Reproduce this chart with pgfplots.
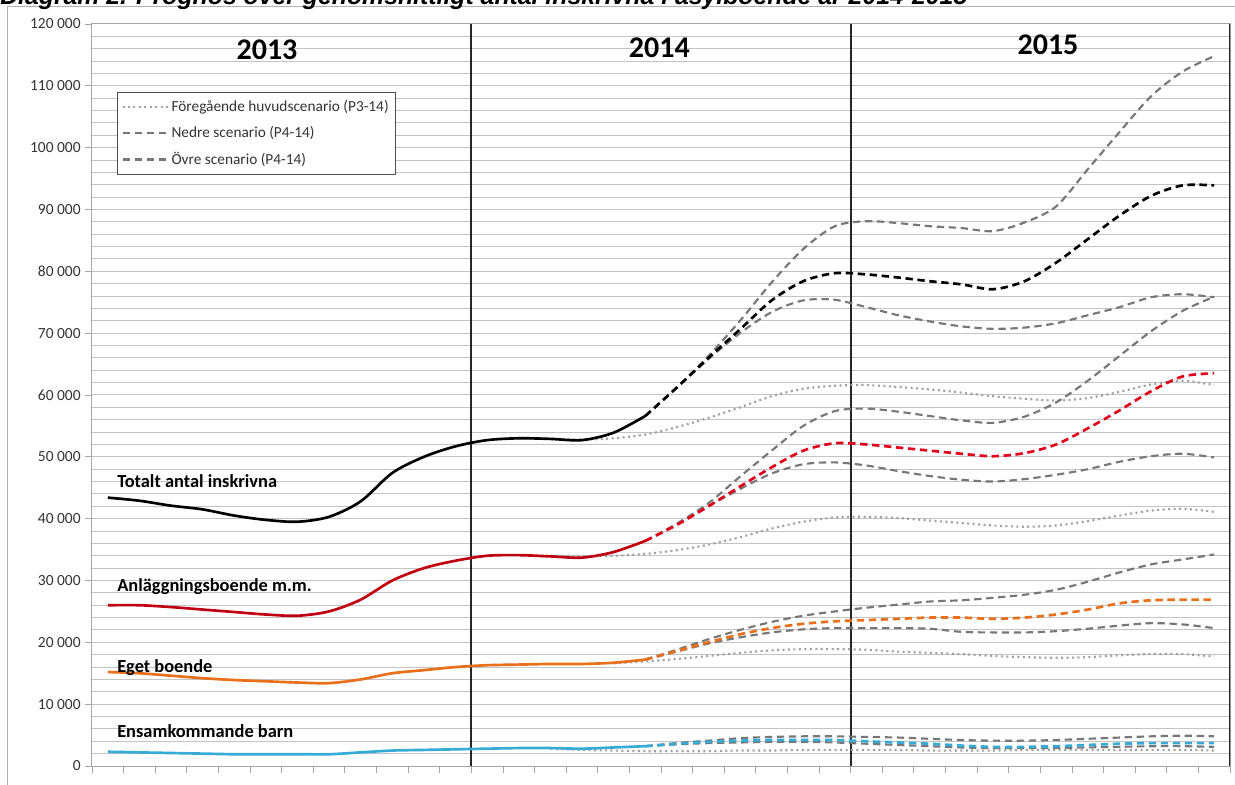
\documentclass[border=0pt]{standalone}
\usepackage{fontspec}
\setmainfont{Carlito}
\newfontfamily\titlefont{Liberation Sans}
\usepackage{pgfplots}
\usepackage{pgfplotstable}
\pgfplotsset{compat=1.18}
\definecolor{cRedS}{HTML}{C00010}
\definecolor{cRedD}{HTML}{E3001B}
\definecolor{cOrange}{HTML}{E8701A}
\definecolor{cBlue}{HTML}{35ABD6}
\definecolor{cGrayD}{HTML}{777777}
\definecolor{cGrayP}{HTML}{A0A0A0}
\definecolor{cGrid}{HTML}{C4C4C4}

\pgfplotstableread{
x act main up low prev
0 43.4 nan nan nan nan
1 42.9 nan nan nan nan
2 42.1 nan nan nan nan
3 41.5 nan nan nan nan
4 40.5 nan nan nan nan
5 39.8 nan nan nan nan
6 39.5 nan nan nan nan
7 40.3 nan nan nan nan
8 42.8 nan nan nan nan
9 47.4 nan nan nan nan
10 50.0 nan nan nan nan
11 51.7 nan nan nan nan
12 52.7 nan nan nan nan
13 53.0 nan nan nan 53.0
14 52.9 nan nan nan 52.9
15 52.7 nan nan nan 52.8
16 53.9 nan nan nan 53.0
17 56.6 56.6 56.6 56.6 53.6
18 nan 61.2 61.2 61.2 54.8
19 nan 66.0 66.3 65.8 56.3
20 nan 70.6 72.0 70.0 58.0
21 nan 75.3 78.2 73.4 59.8
22 nan 78.4 83.6 75.3 61.0
23 nan 79.7 87.3 75.4 61.5
24 nan 79.5 88.1 74.2 61.6
25 nan 79.0 87.8 72.9 61.3
26 nan 78.4 87.3 71.9 60.9
27 nan 77.9 87.0 71.1 60.4
28 nan 77.1 86.5 70.7 59.8
29 nan 78.4 87.9 70.9 59.4
30 nan 81.4 90.5 71.6 59.1
31 nan 85.2 96.5 72.9 59.5
32 nan 89.0 102.5 74.2 60.5
33 nan 92.2 108.3 75.8 61.7
34 nan 93.9 112.3 76.3 62.3
35 nan 93.9 114.8 75.8 61.6
}\tot

\pgfplotstableread{
x act main up low prev
0 26.0 nan nan nan nan
1 26.0 nan nan nan nan
2 25.7 nan nan nan nan
3 25.3 nan nan nan nan
4 24.9 nan nan nan nan
5 24.5 nan nan nan nan
6 24.3 nan nan nan nan
7 25.0 nan nan nan nan
8 26.9 nan nan nan nan
9 30.0 nan nan nan nan
10 32.0 nan nan nan nan
11 33.2 nan nan nan nan
12 34.0 nan nan nan nan
13 34.1 nan nan nan nan
14 33.9 nan nan nan 34.0
15 33.7 nan nan nan 33.9
16 34.6 nan nan nan 34.0
17 36.4 36.4 36.4 36.4 34.3
18 nan 39.0 39.2 39.0 34.9
19 nan 42.0 42.5 42.0 35.8
20 nan 45.2 46.8 44.8 37.0
21 nan 48.3 51.0 47.3 38.4
22 nan 51.0 55.0 48.8 39.5
23 nan 52.2 57.4 49.1 40.2
24 nan 52.0 57.8 48.6 40.3
25 nan 51.5 57.3 47.7 40.1
26 nan 51.0 56.6 46.9 39.7
27 nan 50.5 55.9 46.3 39.3
28 nan 50.1 55.5 46.0 38.9
29 nan 50.6 56.5 46.4 38.7
30 nan 52.0 58.8 47.1 38.9
31 nan 54.6 62.3 48.0 39.6
32 nan 57.5 66.3 49.2 40.5
33 nan 60.6 70.3 50.1 41.3
34 nan 63.0 73.6 50.5 41.6
35 nan 63.5 75.9 49.9 41.1
}\anl

\pgfplotstableread{
x act main up low prev
0 15.2 nan nan nan nan
1 15.0 nan nan nan nan
2 14.6 nan nan nan nan
3 14.2 nan nan nan nan
4 13.9 nan nan nan nan
5 13.7 nan nan nan nan
6 13.5 nan nan nan nan
7 13.4 nan nan nan nan
8 14.0 nan nan nan nan
9 15.0 nan nan nan nan
10 15.5 nan nan nan nan
11 16.0 nan nan nan nan
12 16.3 nan nan nan nan
13 16.4 nan nan nan nan
14 16.5 nan nan nan nan
15 16.5 nan nan nan nan
16 16.7 nan nan nan 16.6
17 17.2 17.2 17.2 17.2 16.9
18 nan 18.6 18.8 18.5 17.3
19 nan 20.0 20.5 19.8 17.8
20 nan 21.3 22.0 20.8 18.3
21 nan 22.3 23.3 21.6 18.7
22 nan 23.0 24.3 22.1 18.9
23 nan 23.4 25.0 22.3 18.9
24 nan 23.6 25.6 22.3 18.8
25 nan 23.8 26.1 22.3 18.5
26 nan 24.0 26.6 22.2 18.3
27 nan 24.0 26.8 21.7 18.1
28 nan 23.8 27.2 21.6 17.8
29 nan 24.0 27.7 21.6 17.6
30 nan 24.5 28.5 21.8 17.5
31 nan 25.3 29.8 22.2 17.6
32 nan 26.3 31.3 22.7 17.9
33 nan 26.8 32.6 23.1 18.1
34 nan 26.9 33.4 22.9 18.1
35 nan 26.9 34.2 22.3 17.7
}\eget

\pgfplotstableread{
x act main up low prev
0 2.3 nan nan nan nan
1 2.2 nan nan nan nan
2 2.1 nan nan nan nan
3 2.0 nan nan nan nan
4 1.9 nan nan nan nan
5 1.9 nan nan nan nan
6 1.9 nan nan nan nan
7 1.9 nan nan nan nan
8 2.2 nan nan nan nan
9 2.5 nan nan nan nan
10 2.6 nan nan nan nan
11 2.7 nan nan nan nan
12 2.8 nan nan nan nan
13 2.9 nan nan nan nan
14 2.9 nan nan nan 2.8
15 2.8 nan nan nan 2.6
16 3.0 nan nan nan 2.5
17 3.2 3.2 3.2 3.2 2.4
18 nan 3.6 3.7 3.5 2.4
19 nan 3.9 4.1 3.7 2.4
20 nan 4.1 4.5 3.8 2.5
21 nan 4.2 4.7 3.9 2.5
22 nan 4.2 4.8 3.9 2.6
23 nan 4.2 4.8 3.8 2.6
24 nan 4.0 4.7 3.6 2.6
25 nan 3.8 4.6 3.4 2.6
26 nan 3.6 4.4 3.2 2.5
27 nan 3.3 4.2 3.0 2.5
28 nan 3.1 4.1 2.9 2.5
29 nan 3.1 4.1 2.9 2.6
30 nan 3.2 4.2 2.9 2.6
31 nan 3.4 4.4 3.0 2.6
32 nan 3.6 4.6 3.1 2.6
33 nan 3.7 4.8 3.2 2.6
34 nan 3.7 4.9 3.2 2.6
35 nan 3.7 4.8 3.1 2.5
}\barn

\tikzset{
  prevst/.style={cGrayP, line width=1.6pt, dash pattern=on 1.5pt off 2.6pt},
  scenst/.style={cGrayD, line width=1.6pt, dash pattern=on 5.5pt off 3.5pt},
  mainst/.style={line width=2pt, dash pattern=on 5.5pt off 3.5pt},
  actst/.style={line width=2pt},
}

\begin{document}
\begin{tikzpicture}
\useasboundingbox (-69pt,-14.25pt) rectangle (857.25pt,574.5pt);
\fill[white] (-69pt,-14.25pt) rectangle (857.25pt,574.5pt);
\draw[gray!60, line width=0.75pt] (-63pt,-40pt) rectangle (880pt,569.25pt);
\node[anchor=base west, inner sep=0pt, font=\titlefont\bfseries\itshape\fontsize{18.6}{20}\selectfont] at (-69pt,571.2pt)
  {Diagram 2. Prognos över genomsnittligt antal inskrivna i asylboende år 2014-2015};

\begin{axis}[
  at={(0pt,0pt)}, anchor=south west,
  scale only axis, width=853.5pt, height=556.5pt,
  xmin=-0.5, xmax=35.5, ymin=0, ymax=120,
  xtick={-0.5,0.5,...,35.5}, xticklabels={},
  ytick={0,10,...,120},
  yticklabels={0,10 000,20 000,30 000,40 000,50 000,60 000,70 000,80 000,90 000,100 000,110 000,120 000},
  minor ytick={2,4,...,118},
  ymajorgrids, yminorgrids,
  major grid style={cGrid, line width=0.75pt},
  minor grid style={cGrid, line width=0.75pt},
  tick pos=left, tick align=outside,
  major tick length=5pt, minor tick length=0pt,
  tick style={gray!70, line width=0.6pt},
  axis line style={gray!70, line width=0.75pt},
  yticklabel style={font=\fontsize{11.6}{13}\selectfont, text=black!80},
  unbounded coords=discard,
  legend style={at={(0.022,0.908)}, anchor=north west, draw=black!70, line width=0.6pt,
    font=\fontsize{11.5}{13}\selectfont, row sep=5.5pt, inner xsep=3pt, inner ysep=4pt,
    cells={anchor=west}, text=black!80},
  legend image code/.code={\draw[#1] (0pt,0pt) -- (34pt,0pt);},
]
% year dividers
\addplot[black!85, line width=1.4pt, forget plot] coordinates {(11.5,0) (11.5,120)};
\addplot[black!85, line width=1.4pt, forget plot] coordinates {(23.5,0) (23.5,120)};
\addplot[black!85, line width=1.4pt, forget plot] coordinates {(35.5,0) (35.5,120)};

% previous main scenario (dotted)
\addplot[prevst, smooth, forget plot] table[x=x, y=prev] {\tot};
\addplot[prevst, smooth, forget plot] table[x=x, y=prev] {\anl};
\addplot[prevst, smooth, forget plot] table[x=x, y=prev] {\eget};
\addplot[prevst, smooth, forget plot] table[x=x, y=prev] {\barn};
% lower / upper scenarios
\addplot[scenst, smooth, forget plot] table[x=x, y=up] {\tot};
\addplot[scenst, smooth, forget plot] table[x=x, y=low] {\tot};
\addplot[scenst, smooth, forget plot] table[x=x, y=up] {\anl};
\addplot[scenst, smooth, forget plot] table[x=x, y=low] {\anl};
\addplot[scenst, smooth, forget plot] table[x=x, y=up] {\eget};
\addplot[scenst, smooth, forget plot] table[x=x, y=low] {\eget};
\addplot[scenst, smooth, forget plot] table[x=x, y=up] {\barn};
\addplot[scenst, smooth, forget plot] table[x=x, y=low] {\barn};
% main forecasts
\addplot[mainst, black, smooth, forget plot] table[x=x, y=main] {\tot};
\addplot[mainst, cRedD, smooth, forget plot] table[x=x, y=main] {\anl};
\addplot[mainst, cOrange, smooth, forget plot] table[x=x, y=main] {\eget};
\addplot[mainst, cBlue, smooth, forget plot] table[x=x, y=main] {\barn};
% actual
\addplot[actst, black, smooth, forget plot] table[x=x, y=act] {\tot};
\addplot[actst, cRedS, smooth, forget plot] table[x=x, y=act] {\anl};
\addplot[actst, cOrange, smooth, forget plot] table[x=x, y=act] {\eget};
\addplot[actst, cBlue, smooth, forget plot] table[x=x, y=act] {\barn};

\addlegendimage{cGrayP, line width=1.6pt, dash pattern=on 1.5pt off 2.6pt}
\addlegendentry{Föregående huvudscenario (P3-14)}
\addlegendimage{cGrayD, line width=1.6pt, dash pattern=on 5.5pt off 3.5pt}
\addlegendentry{Nedre scenario (P4-14)}
\addlegendimage{cGrayD, line width=1.6pt, dash pattern=on 5.5pt off 3.5pt}
\addlegendentry{Övre scenario (P4-14)}
\end{axis}

\begin{scope}[every node/.style={inner sep=0pt, text=black}]
\node[font=\bfseries\fontsize{22.5}{24}\selectfont] at (131.25pt,537pt) {2013};
\node[font=\bfseries\fontsize{22.5}{24}\selectfont] at (425.5pt,538.5pt) {2014};
\node[font=\bfseries\fontsize{22.5}{24}\selectfont] at (717pt,540.75pt) {2015};
\node[anchor=base west, font=\bfseries\fontsize{13.8}{15}\selectfont] at (18.75pt,208.5pt) {Totalt antal inskrivna};
\node[anchor=base west, font=\bfseries\fontsize{13.8}{15}\selectfont] at (18.75pt,130.5pt) {Anläggningsboende m.m.};
\node[anchor=base west, font=\bfseries\fontsize{13.8}{15}\selectfont] at (18.75pt,69.75pt) {Eget boende};
\node[anchor=base west, font=\bfseries\fontsize{13.8}{15}\selectfont] at (18.75pt,21pt) {Ensamkommande barn};
\end{scope}
\end{tikzpicture}
\end{document}
